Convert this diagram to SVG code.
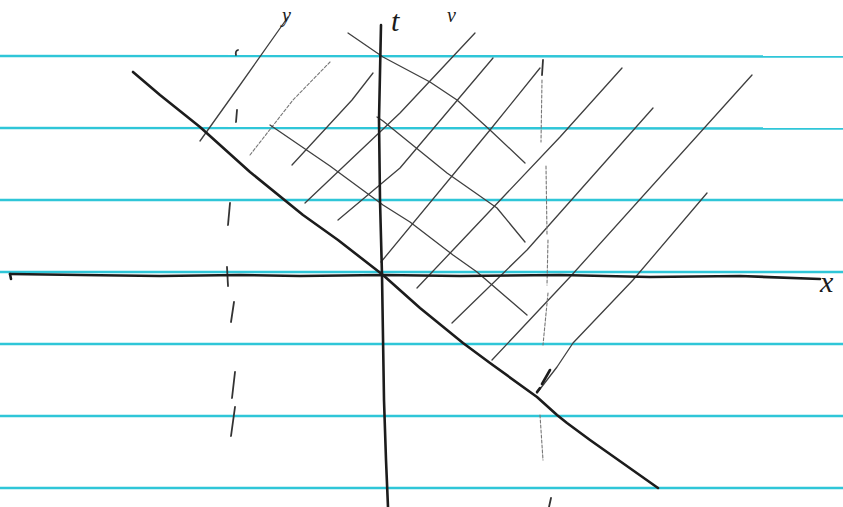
<svg xmlns="http://www.w3.org/2000/svg" width="843" height="507" viewBox="0 0 843 507">
<style>
.rule{stroke:#2fc6d8;stroke-width:2.4;fill:none}
.ink{stroke:#1c1c1c;stroke-width:2.6;fill:none;stroke-linecap:round;stroke-linejoin:round}
.hatch{stroke:#3f3f3f;stroke-width:1.3;fill:none;stroke-linecap:round;stroke-linejoin:round}
.faint{stroke:#777;stroke-width:1.1;fill:none;stroke-dasharray:3 2;stroke-linecap:round}
.dash{stroke:#333;stroke-width:1.8;fill:none;stroke-linecap:round}
.lbl{font-family:"Liberation Serif",serif;font-style:italic;fill:#1c1c1c}
</style>
<rect width="843" height="507" fill="#ffffff"/>
<g id="paper-rules">
<line class="rule" x1="0" y1="56" x2="843" y2="56.5"/>
<line class="rule" x1="0" y1="128" x2="843" y2="128.5"/>
<line class="rule" x1="0" y1="200" x2="843" y2="200"/>
<line class="rule" x1="0" y1="272" x2="843" y2="272"/>
<line class="rule" x1="0" y1="344" x2="843" y2="344"/>
<line class="rule" x1="0" y1="416" x2="843" y2="416"/>
<line class="rule" x1="0" y1="488" x2="843" y2="488"/>
</g>
<g id="hatching-right-up">
<polyline class="hatch" points="200,141 240,85 288,17"/>
<polyline class="faint" points="250,155 293,100 330,62"/>
<polyline class="hatch" points="292,165 352,100 373,73"/>
<polyline class="hatch" points="305,203 400,113 475,33"/>
<polyline class="hatch" points="338,220 400,168 493,58"/>
<polyline class="hatch" points="381,262 490,130 540,68"/>
<polyline class="hatch" points="417,288 453,250 560,137 622,68"/>
<polyline class="hatch" points="452,323 527,250 653,108"/>
<polyline class="hatch" points="492,360 570,277 752,75"/>
<polyline class="hatch" points="537,393 557,367 573,343 633,280 707,193"/>
<path class="ink" d="M537,392 l3,-4 M542,384 l8,-14" stroke-width="2.2"/>
</g>
<g id="hatching-right-down">
<polyline class="hatch" points="348,33 383,57 430,82 457,100 490,130 525,163"/>
<polyline class="hatch" points="377,117 383,121 447,173 497,208 525,242"/>
<polyline class="hatch" points="270,125 330,166 383,205 410,222 453,255 477,272 527,315"/>
</g>
<g id="dashed-left">
<path class="dash" d="M238,50 q-3,1 -2,5"/>
<line class="dash" x1="237" y1="110" x2="236" y2="122"/>
<line class="dash" x1="230" y1="203" x2="228" y2="225"/>
<line class="dash" x1="227" y1="267" x2="228" y2="286"/>
<line class="dash" x1="234" y1="302" x2="231" y2="322"/>
<line class="dash" x1="235" y1="372" x2="232" y2="398"/>
<line class="dash" x1="235" y1="407" x2="231" y2="436"/>
</g>
<g id="dashed-right">
<line class="dash" x1="543" y1="60" x2="542" y2="75"/>
<line class="faint" x1="542" y1="80" x2="541" y2="142"/>
<line class="faint" x1="546" y1="166" x2="547" y2="234"/>
<line class="faint" x1="548" y1="240" x2="547" y2="285"/>
<line class="faint" x1="548" y1="293" x2="543" y2="345" stroke="#555" stroke-width="1.4"/>
<line class="faint" x1="540" y1="415" x2="543" y2="460"/>
<line class="dash" x1="551" y1="498" x2="549" y2="507"/>
</g>
<g id="axes">
<polyline class="ink" points="381,25 379,120 380,200 382,275 384,400 386,460 388,507"/>
<polyline class="ink" points="10,274 80,275 160,276 240,275 300,276 383,275 460,276 560,275 650,277 740,276 820,279"/>
<line class="ink" x1="10" y1="274" x2="11" y2="279" stroke-width="1.8"/>
</g>
<g id="diagonal">
<polyline class="ink" points="133,72 160,95 200,127 250,172 303,215 338,240 383,275 420,308 463,343 490,363 537,397 557,415 567,423 590,440 607,452 658,488"/>
</g>
<g id="labels">
<text class="lbl" x="391" y="31" font-size="30">t</text>
<text class="lbl" x="820" y="292" font-size="30">x</text>
<text class="lbl" x="447" y="22" font-size="20">v</text>
<text class="lbl" x="282" y="22" font-size="20">y</text>
</g>
</svg>
